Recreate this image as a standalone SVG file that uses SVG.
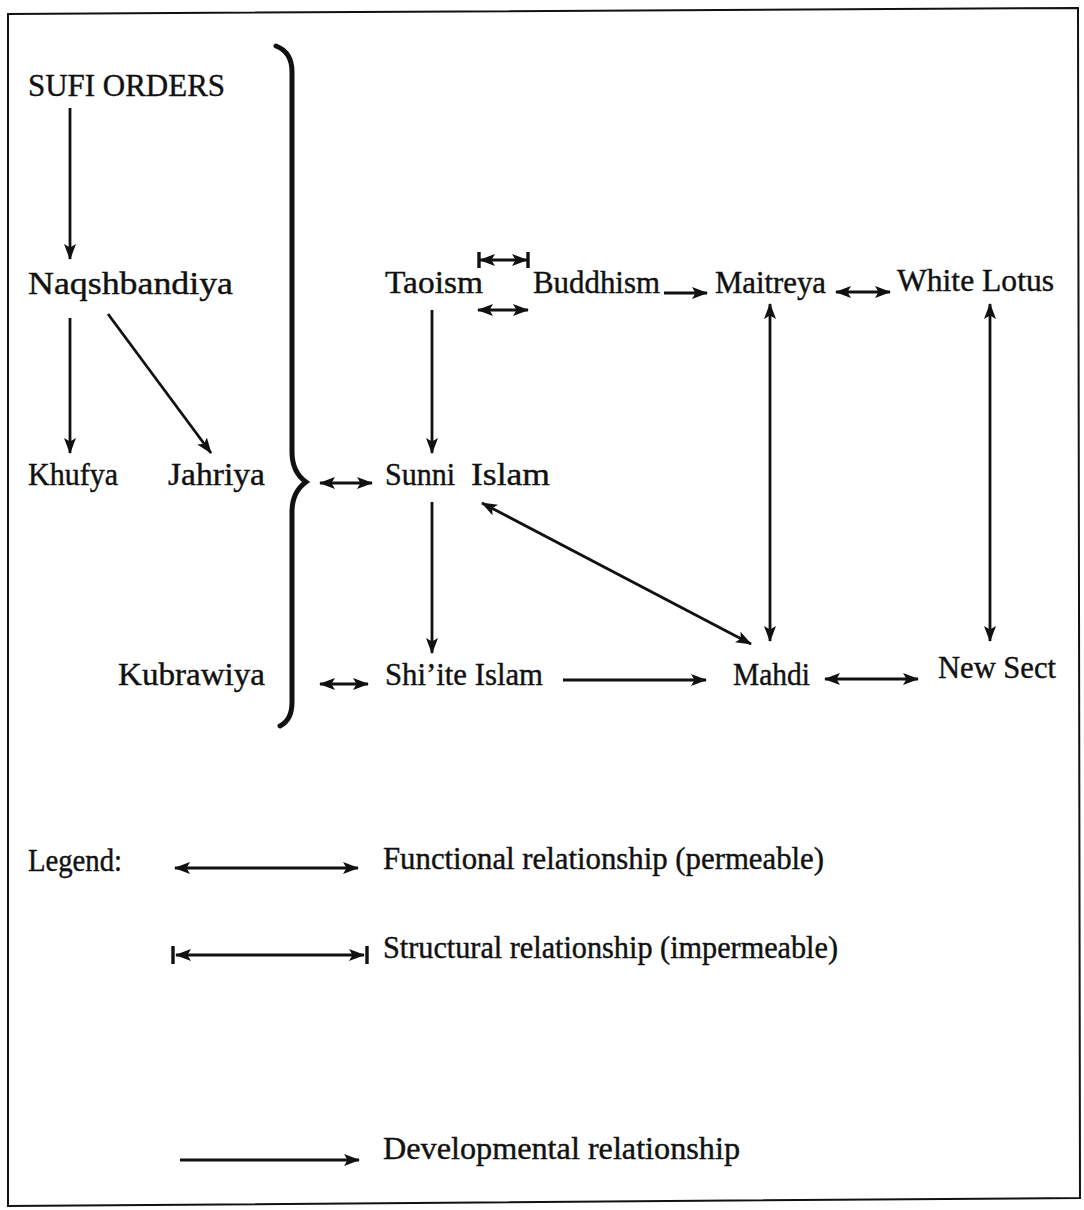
<svg xmlns="http://www.w3.org/2000/svg" width="1084" height="1210" viewBox="0 0 1084 1210">
<style>
text{font-family:"Liberation Serif","DejaVu Serif",serif;font-size:31px;fill:#111;stroke:#111;stroke-width:0.4}
.ln{stroke:#111;stroke-width:2.8;fill:none}
.bar{stroke:#111;stroke-width:3.4;fill:none}
</style>
<defs>
<marker id="ah" viewBox="0 0 16 13" refX="15" refY="6.5" markerWidth="16" markerHeight="13" markerUnits="userSpaceOnUse" orient="auto-start-reverse">
<path d="M0,0.5 L16,6.5 L0,12.5 L3.5,6.5 z" fill="#111"/>
</marker>
</defs>
<rect x="0" y="0" width="1084" height="1210" fill="#fff"/>
<path d="M8,14 L1078,8 L1080,1198 L8,1206 Z" fill="none" stroke="#111" stroke-width="2"/>

<g id="brace">
<path d="M276,46 Q292,52 292,72 L292,452 Q292,472 306,482 Q292,492 292,512 L292,702 Q292,720 280,726" fill="none" stroke="#111" stroke-width="5" stroke-linecap="round"/>
</g>

<g id="n-sufi"><text x="28" y="96" textLength="197" lengthAdjust="spacingAndGlyphs">SUFI ORDERS</text></g>
<g id="n-naqsh"><text x="28" y="294" textLength="205" lengthAdjust="spacingAndGlyphs">Naqshbandiya</text></g>
<g id="n-khufya"><text x="28" y="485" textLength="90" lengthAdjust="spacingAndGlyphs">Khufya</text></g>
<g id="n-jahriya"><text x="168" y="485" textLength="97" lengthAdjust="spacingAndGlyphs">Jahriya</text></g>
<g id="n-kubrawiya"><text x="118" y="685" textLength="147" lengthAdjust="spacingAndGlyphs">Kubrawiya</text></g>
<g id="n-taoism"><text x="385" y="293" textLength="98" lengthAdjust="spacingAndGlyphs">Taoism</text></g>
<g id="n-buddhism"><text x="533" y="293" textLength="127" lengthAdjust="spacingAndGlyphs">Buddhism</text></g>
<g id="n-maitreya"><text x="715" y="293" textLength="111" lengthAdjust="spacingAndGlyphs">Maitreya</text></g>
<g id="n-whitelotus"><text x="897" y="291" textLength="157" lengthAdjust="spacingAndGlyphs">White Lotus</text></g>
<g id="n-sunni"><text y="485"><tspan x="385" textLength="70" lengthAdjust="spacingAndGlyphs">Sunni</tspan><tspan x="471" textLength="79" lengthAdjust="spacingAndGlyphs">Islam</tspan></text></g>
<g id="n-shiite"><text x="385" y="685" textLength="158" lengthAdjust="spacingAndGlyphs">Shi’ite Islam</text></g>
<g id="n-mahdi"><text x="733" y="685" textLength="77" lengthAdjust="spacingAndGlyphs">Mahdi</text></g>
<g id="n-newsect"><text x="938" y="678" textLength="118" lengthAdjust="spacingAndGlyphs">New Sect</text></g>

<g id="connectors">
<line class="ln" x1="70" y1="108" x2="70" y2="259" marker-end="url(#ah)"/>
<line class="ln" x1="70" y1="318" x2="70" y2="453" marker-end="url(#ah)"/>
<line class="ln" x1="108" y1="314" x2="211" y2="453" marker-end="url(#ah)"/>
<line class="ln" x1="432" y1="310" x2="432" y2="453" marker-end="url(#ah)"/>
<line class="ln" x1="432" y1="502" x2="432" y2="653" marker-end="url(#ah)"/>
<line class="ln" x1="480" y1="260" x2="527" y2="260" marker-start="url(#ah)" marker-end="url(#ah)"/>
<line class="bar" x1="479" y1="252" x2="479" y2="268"/>
<line class="bar" x1="528" y1="252" x2="528" y2="268"/>
<line class="ln" x1="478" y1="310" x2="528" y2="310" marker-start="url(#ah)" marker-end="url(#ah)"/>
<line class="ln" x1="664" y1="293" x2="707" y2="293" marker-end="url(#ah)"/>
<line class="ln" x1="836" y1="292" x2="890" y2="292" marker-start="url(#ah)" marker-end="url(#ah)"/>
<line class="ln" x1="770" y1="304" x2="770" y2="641" marker-start="url(#ah)" marker-end="url(#ah)"/>
<line class="ln" x1="990" y1="304" x2="990" y2="641" marker-start="url(#ah)" marker-end="url(#ah)"/>
<line class="ln" x1="482" y1="503" x2="751" y2="644" marker-start="url(#ah)" marker-end="url(#ah)"/>
<line class="ln" x1="563" y1="680" x2="706" y2="680" marker-end="url(#ah)"/>
<line class="ln" x1="825" y1="679" x2="918" y2="679" marker-start="url(#ah)" marker-end="url(#ah)"/>
<line class="ln" x1="320" y1="483" x2="372" y2="483" marker-start="url(#ah)" marker-end="url(#ah)"/>
<line class="ln" x1="320" y1="684" x2="368" y2="684" marker-start="url(#ah)" marker-end="url(#ah)"/>
</g>

<g id="legend">
<text x="28" y="871" textLength="94" lengthAdjust="spacingAndGlyphs">Legend:</text>
<line class="ln" x1="175" y1="868" x2="358" y2="868" marker-start="url(#ah)" marker-end="url(#ah)"/>
<text x="383" y="869" textLength="441" lengthAdjust="spacingAndGlyphs">Functional relationship (permeable)</text>
<line class="ln" x1="176" y1="955" x2="364" y2="955" marker-start="url(#ah)" marker-end="url(#ah)"/>
<line class="bar" x1="173" y1="946" x2="173" y2="964"/>
<line class="bar" x1="367" y1="946" x2="367" y2="964"/>
<text x="383" y="958" textLength="455" lengthAdjust="spacingAndGlyphs">Structural relationship (impermeable)</text>
<line class="ln" x1="180" y1="1160" x2="359" y2="1160" marker-end="url(#ah)"/>
<text x="383" y="1159" textLength="357" lengthAdjust="spacingAndGlyphs">Developmental relationship</text>
</g>
</svg>
